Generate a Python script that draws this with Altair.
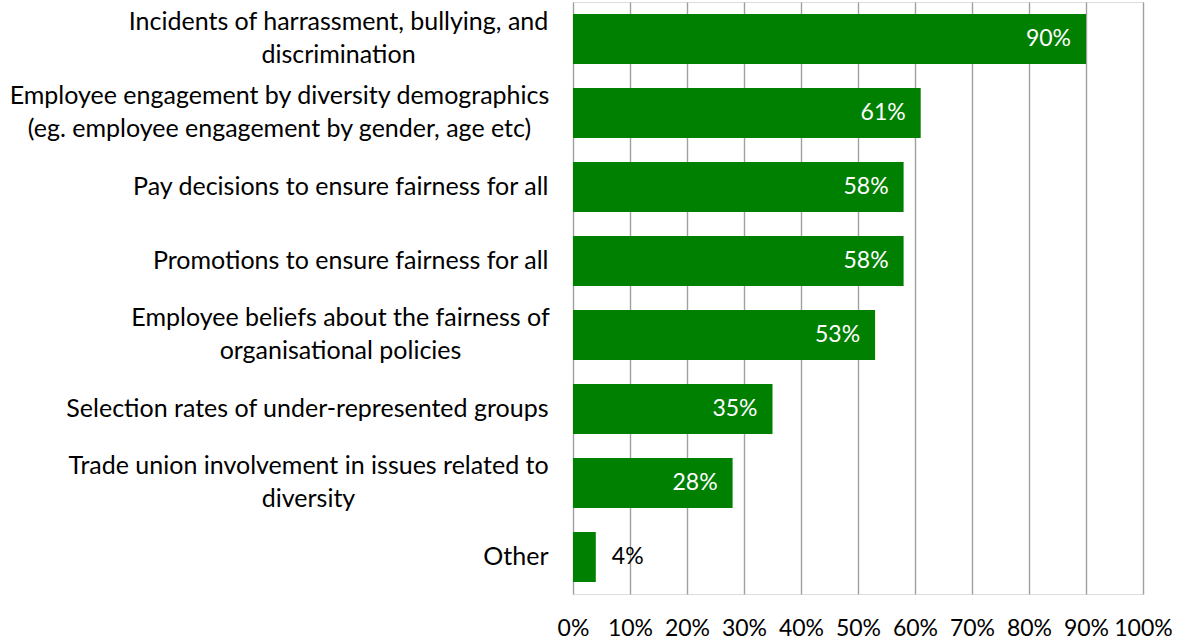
import altair as alt
import pandas as pd

categories = [
    "Incidents of harrassment, bullying, and|discrimination",
    "Employee engagement by diversity demographics|(eg. employee engagement by gender, age etc)",
    "Pay decisions to ensure fairness for all",
    "Promotions to ensure fairness for all",
    "Employee beliefs about the fairness of|organisational policies",
    "Selection rates of under-represented groups",
    "Trade union involvement in issues related to|diversity",
    "Other",
]
values = [90, 61, 58, 58, 53, 35, 28, 4]
tick_values = [0, 10, 20, 30, 40, 50, 60, 70, 80, 90, 100]

df = pd.DataFrame({"cat": categories, "val": values})
df["label"] = df["val"].astype(str) + "%"
df["inside"] = df["val"] > 10

FONT = "Lato"
CAT_SIZE = 25
NUM_SIZE = 23
GAP = 25  # space between label block and plot edge

# half-widths of the widest line of each two-line label (for centred blocks)
half_widths = {0: 210, 1: 269, 4: 208, 6: 240}

pad_conditions = [
    {"test": f"datum.value === {categories[i]!r}", "value": GAP + hw}
    for i, hw in half_widths.items()
]
multi_test = "indexof(datum.value, '|') >= 0"

y_enc = alt.Y(
    "cat:N",
    sort=categories,
    scale=alt.Scale(paddingInner=0.324, paddingOuter=0.162),
    axis=alt.Axis(
        title=None,
        labelExpr="split(datum.label, '|')",
        labelFont=FONT,
        labelFontSize=CAT_SIZE,
        labelColor="#000000",
        labelAlign={"condition": {"test": multi_test, "value": "center"}, "value": "right"},
        labelPadding={"condition": pad_conditions, "value": GAP},
        labelOffset={"condition": {"test": multi_test, "value": -17}, "value": 0},
        labelLineHeight=33,
        labelLimit=0,
        ticks=False,
        domain=False,
        grid=False,
    ),
)
x_enc = alt.X(
    "val:Q",
    scale=alt.Scale(domain=[0, 100], nice=False),
    axis=alt.Axis(
        title=None,
        values=tick_values,
        labelExpr="datum.value + '%'",
        labelFont=FONT,
        labelFontSize=NUM_SIZE,
        labelColor="#000000",
        labelPadding=23,
        labelFlush=False,
        ticks=False,
        domain=False,
        grid=True,
        gridColor="#a0a0a0",
        gridWidth=1.4,
    ),
)

bars = alt.Chart(df).mark_bar(color="#008000").encode(x=x_enc, y=y_enc)

inside = alt.Chart(df).transform_filter("datum.inside").mark_text(
    align="right", baseline="middle", dx=-15, font=FONT, fontSize=NUM_SIZE, color="#ffffff"
).encode(x="val:Q", y=alt.Y("cat:N", sort=categories), text="label:N")

outside = alt.Chart(df).transform_filter("!datum.inside").mark_text(
    align="left", baseline="middle", dx=16, font=FONT, fontSize=NUM_SIZE, color="#000000"
).encode(x="val:Q", y=alt.Y("cat:N", sort=categories), text="label:N")

chart = (bars + inside + outside).properties(
    width=570,
    height=592,
    autosize=alt.AutoSizeParams(type="none"),
    padding={"left": 573, "top": 2, "right": 37, "bottom": 50},
).configure_view(stroke=None).configure(background="#ffffff")

chart.save("out.html", embed_options={"renderer": "svg", "actions": False})
